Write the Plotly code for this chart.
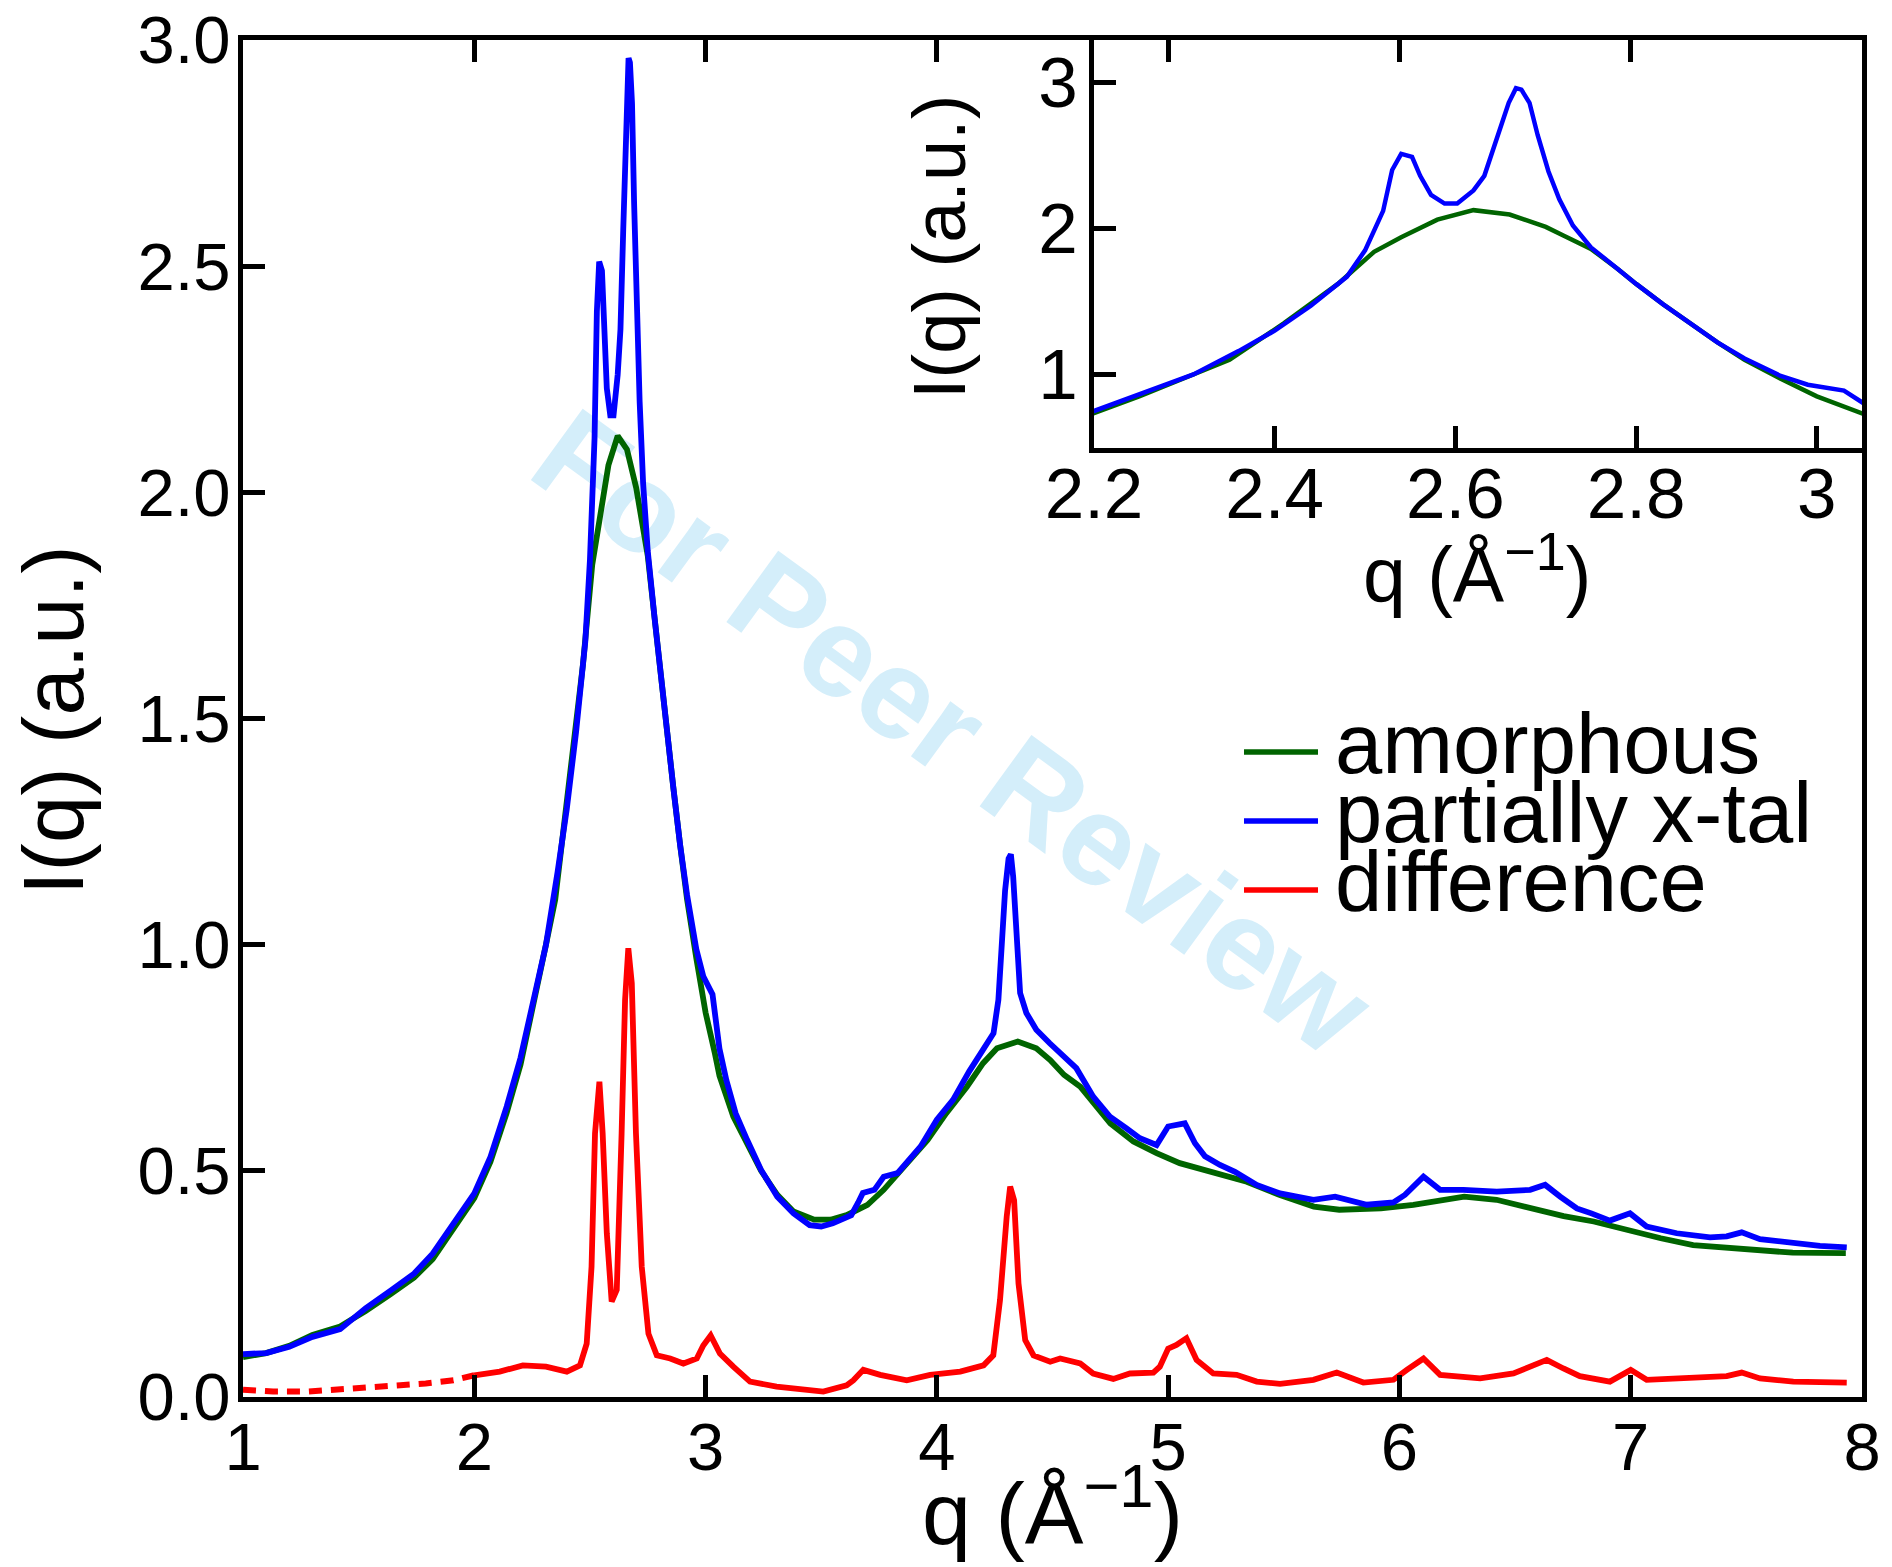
import plotly.graph_objects as go

# ---------------- data ----------------
q_amor = [1.00, 1.10, 1.20, 1.30, 1.42, 1.53, 1.64, 1.74, 1.82, 1.91, 2.00, 2.07, 2.14, 2.20,
          2.25, 2.31, 2.35, 2.41, 2.47, 2.51, 2.54, 2.58, 2.62, 2.66, 2.70, 2.72, 2.75, 2.78,
          2.80, 2.83, 2.86, 2.89, 2.92, 2.96, 3.00, 3.04, 3.06, 3.12, 3.18, 3.24, 3.31, 3.38,
          3.47, 3.54, 3.61, 3.70, 3.77, 3.87, 3.96, 4.04, 4.13, 4.20, 4.26, 4.35, 4.43, 4.49,
          4.55, 4.62, 4.75, 4.85, 4.95, 5.05, 5.20, 5.34, 5.48, 5.63, 5.74, 5.92, 6.06, 6.28,
          6.42, 6.57, 6.71, 6.84, 6.98, 7.13, 7.27, 7.42, 7.56, 7.70, 7.93]
I_amor = [0.088, 0.097, 0.113, 0.137, 0.156, 0.190, 0.228, 0.264, 0.305, 0.374, 0.440, 0.520, 0.628, 0.735,
          0.850, 1.000, 1.100, 1.350, 1.620, 1.840, 1.940, 2.060, 2.125, 2.095, 2.010, 1.950, 1.860, 1.720,
          1.620, 1.480, 1.350, 1.220, 1.100, 0.970, 0.850, 0.760, 0.710, 0.620, 0.560, 0.500, 0.447, 0.410,
          0.392, 0.392, 0.402, 0.425, 0.458, 0.517, 0.568, 0.627, 0.686, 0.738, 0.771, 0.786, 0.771, 0.745,
          0.712, 0.686, 0.605, 0.565, 0.539, 0.517, 0.495, 0.476, 0.447, 0.421, 0.414, 0.417, 0.425, 0.443,
          0.436, 0.417, 0.400, 0.388, 0.369, 0.351, 0.336, 0.329, 0.323, 0.319, 0.318]

q_xtal = [1.00, 1.10, 1.20, 1.30, 1.42, 1.53, 1.64, 1.74, 1.82, 1.91, 2.00, 2.07, 2.14, 2.20,
          2.25, 2.31, 2.36, 2.40, 2.44, 2.48, 2.50, 2.52, 2.53, 2.54, 2.552, 2.561, 2.573, 2.588,
          2.602, 2.62, 2.632, 2.644, 2.659, 2.667, 2.673, 2.682, 2.691, 2.703, 2.715, 2.73, 2.75,
          2.78, 2.80, 2.83, 2.86, 2.89, 2.92, 2.96, 2.99, 3.03, 3.06, 3.09, 3.13, 3.18, 3.24,
          3.31, 3.38, 3.45, 3.50, 3.55, 3.63, 3.66, 3.68, 3.73, 3.77, 3.83, 3.86, 3.93, 4.00,
          4.07, 4.14, 4.20, 4.245, 4.266, 4.281, 4.295, 4.31, 4.32, 4.33, 4.338, 4.35, 4.36,
          4.387, 4.43, 4.488, 4.546, 4.603, 4.676, 4.748, 4.82, 4.878, 4.95, 5.00, 5.072, 5.116,
          5.159, 5.224, 5.289, 5.383, 5.484, 5.628, 5.722, 5.859, 5.974, 6.024, 6.104, 6.176,
          6.277, 6.421, 6.565, 6.63, 6.695, 6.767, 6.83, 6.91, 6.997, 7.069, 7.199, 7.343,
          7.415, 7.48, 7.559, 7.703, 7.818, 7.934]
I_xtal = [0.095, 0.097, 0.111, 0.133, 0.150, 0.196, 0.236, 0.273, 0.317, 0.384, 0.450, 0.531, 0.642, 0.750,
          0.860, 1.000, 1.160, 1.300, 1.470, 1.670, 1.850, 2.120, 2.400, 2.510, 2.490, 2.360, 2.230, 2.170,
          2.170, 2.260, 2.360, 2.580, 2.860, 2.960, 2.950, 2.860, 2.640, 2.390, 2.200, 2.020, 1.870,
          1.720, 1.620, 1.480, 1.350, 1.220, 1.110, 0.990, 0.930, 0.890, 0.770, 0.700, 0.627, 0.568, 0.502,
          0.443, 0.406, 0.380, 0.377, 0.384, 0.402, 0.430, 0.451, 0.458, 0.487, 0.495, 0.513, 0.554, 0.613,
          0.657, 0.720, 0.767, 0.804, 0.878, 1.025, 1.120, 1.190, 1.200, 1.150, 1.080, 0.960, 0.893,
          0.849, 0.812, 0.782, 0.753, 0.727, 0.664, 0.620, 0.594, 0.572, 0.557, 0.598, 0.605, 0.561,
          0.532, 0.513, 0.498, 0.469, 0.450, 0.436, 0.443, 0.425, 0.430, 0.447, 0.487, 0.458,
          0.458, 0.454, 0.458, 0.469, 0.443, 0.417, 0.406, 0.390, 0.406, 0.377, 0.362, 0.353,
          0.355, 0.364, 0.349, 0.340, 0.334, 0.331]

q_diff = [1.00, 1.13, 1.28, 1.42, 1.56, 1.68, 1.79, 1.91, 2.00, 2.11, 2.21, 2.31, 2.40, 2.457,
          2.486, 2.507, 2.522, 2.541, 2.555, 2.573, 2.594, 2.616, 2.637, 2.652, 2.666, 2.681, 2.699,
          2.724, 2.753, 2.789, 2.847, 2.904, 2.962, 2.990, 3.022, 3.062, 3.12, 3.192, 3.307, 3.408,
          3.509, 3.61, 3.639, 3.682, 3.755, 3.87, 3.971, 4.101, 4.202, 4.244, 4.273, 4.302, 4.317,
          4.334, 4.353, 4.382, 4.418, 4.490, 4.533, 4.62, 4.676, 4.763, 4.835, 4.936, 4.964, 5.0,
          5.036, 5.079, 5.123, 5.195, 5.296, 5.383, 5.484, 5.628, 5.729, 5.844, 5.974, 6.032, 6.104,
          6.176, 6.349, 6.493, 6.637, 6.709, 6.78, 6.91, 7.0, 7.069, 7.271, 7.415, 7.48, 7.559,
          7.703, 7.934]
I_diff = [0.016, 0.012, 0.012, 0.016, 0.021, 0.026, 0.030, 0.037, 0.048, 0.056, 0.070, 0.067, 0.056, 0.070,
          0.118, 0.288, 0.583, 0.697, 0.583, 0.362, 0.211, 0.237, 0.583, 0.878, 0.992, 0.915, 0.583,
          0.288, 0.140, 0.092, 0.085, 0.074, 0.085, 0.114, 0.136, 0.096, 0.067, 0.034, 0.023, 0.019,
          0.012, 0.026, 0.037, 0.060, 0.049, 0.037, 0.049, 0.056, 0.070, 0.092, 0.214, 0.399, 0.465,
          0.435, 0.251, 0.126, 0.092, 0.078, 0.085, 0.074, 0.052, 0.040, 0.052, 0.054, 0.067, 0.107,
          0.115, 0.130, 0.082, 0.052, 0.049, 0.034, 0.029, 0.038, 0.054, 0.032, 0.038, 0.060, 0.085,
          0.049, 0.041, 0.052, 0.082, 0.063, 0.046, 0.034, 0.060, 0.038, 0.041, 0.046, 0.054, 0.041,
          0.034, 0.032]

series_names = ["amorphous", "partially x-tal", "difference"]
series_colors = ["#006400", "#0000ff", "#ff0000"]

main_xticks = [1, 2, 3, 4, 5, 6, 7, 8]
main_yticks = [0.0, 0.5, 1.0, 1.5, 2.0, 2.5, 3.0]
main_yticktext = ["0.0", "0.5", "1.0", "1.5", "2.0", "2.5", "3.0"]
inset_xticks = [2.2, 2.4, 2.6, 2.8, 3.0]
inset_xticktext = ["2.2", "2.4", "2.6", "2.8", "3"]
inset_yticks = [1, 2, 3]

# ---------------- layout geometry (pixels) ----------------
W, H = 1892, 1567
L, R, T, B = 243, 1862, 40, 1397


def px(x):
    return (x - L) / (R - L)


def py(y):
    return (B - y) / (B - T)


FONT = "Liberation Sans, Arial, Helvetica, sans-serif"

fig = go.Figure()

# main plot
fig.add_trace(go.Scatter(x=q_amor, y=I_amor, mode="lines", name=series_names[0],
                         line=dict(color=series_colors[0], width=5.8), xaxis="x", yaxis="y"))
fig.add_trace(go.Scatter(x=q_xtal, y=I_xtal, mode="lines", name=series_names[1],
                         line=dict(color=series_colors[1], width=5.8), xaxis="x", yaxis="y"))
q_lo = [q for q in q_diff if q <= 2.0]
I_lo = [v for q, v in zip(q_diff, I_diff) if q <= 2.0]
q_hi = [q for q in q_diff if q >= 2.0]
I_hi = [v for q, v in zip(q_diff, I_diff) if q >= 2.0]
fig.add_trace(go.Scatter(x=q_lo, y=I_lo, mode="lines", name=series_names[2],
                         line=dict(color=series_colors[2], width=6, dash="13px,9px"),
                         xaxis="x", yaxis="y"))
fig.add_trace(go.Scatter(x=q_hi, y=I_hi, mode="lines", name=series_names[2],
                         line=dict(color=series_colors[2], width=5.8), xaxis="x", yaxis="y"))

# inset
fig.add_trace(go.Scatter(x=q_amor, y=I_amor, mode="lines", line=dict(color=series_colors[0], width=4.5),
                         xaxis="x2", yaxis="y2"))
fig.add_trace(go.Scatter(x=q_xtal, y=I_xtal, mode="lines", line=dict(color=series_colors[1], width=4.5),
                         xaxis="x2", yaxis="y2"))

axis_common = dict(showline=True, linewidth=5, linecolor="black", ticks="inside", ticklen=22,
                   tickwidth=4.5, tickcolor="black", showgrid=False, zeroline=False, automargin=False)

fig.update_layout(
    width=W, height=H,
    margin=dict(l=L, r=W - R, t=T, b=H - B, pad=0, autoexpand=False),
    paper_bgcolor="white", plot_bgcolor="rgba(0,0,0,0)",
    showlegend=False,
    font=dict(family=FONT, color="black"),
    xaxis=dict(range=[1, 8], tickvals=main_xticks, ticktext=[str(v) for v in main_xticks],
               mirror="allticks", tickfont=dict(size=67), ticklabelstandoff=-12,
               domain=[0, 1], anchor="y", **axis_common),
    yaxis=dict(range=[0, 3], tickvals=main_yticks, ticktext=main_yticktext, ticklabelstandoff=-6,
               mirror=True, tickfont=dict(size=67), domain=[0, 1], anchor="x", **axis_common),
    xaxis2=dict(range=[2.2, 3.05], tickvals=inset_xticks, ticktext=inset_xticktext, ticklabelstandoff=-20,
                mirror=True, tickfont=dict(size=71), domain=[px(1094), 1], anchor="y2", **axis_common),
    yaxis2=dict(range=[0.5, 3.29], tickvals=inset_yticks, ticktext=[str(v) for v in inset_yticks],
                ticklabelstandoff=-3,
                mirror=True, tickfont=dict(size=71), domain=[py(447.5), 1], anchor="x2", **axis_common),
)

# watermark (below the curves)
cx, cy = 960, 722
fig.add_shape(type="line", xref="paper", yref="paper",
              x0=px(cx - 243), y0=py(cy - 176), x1=px(cx + 243), y1=py(cy + 176),
              line=dict(color="rgba(0,0,0,0)", width=1), layer="below",
              label=dict(text="For Peer Review", textposition="middle", yanchor="middle", textangle=36,
                         font=dict(family=FONT, size=128, color="#d4eefa", weight="bold")))

# legend drawn by hand (tight spacing as in the reference)
leg_y = [752, 821, 890]
for name, col, yy in zip(series_names, series_colors, leg_y):
    fig.add_shape(type="line", xref="paper", yref="paper", x0=px(1244), x1=px(1318),
                  y0=py(yy), y1=py(yy), line=dict(color=col, width=5.5))
    fig.add_annotation(xref="paper", yref="paper", x=px(1333), y=py(yy - 9), text=name,
                       showarrow=False, xanchor="left", yanchor="middle",
                       font=dict(family=FONT, size=85, color="black"))

# axis titles
fig.add_annotation(xref="paper", yref="paper", x=0.5, y=py(1565), text="q (Å<sup>−1</sup>)",
                   showarrow=False, xanchor="center", yanchor="bottom",
                   font=dict(family=FONT, size=88))
fig.add_annotation(xref="paper", yref="paper", x=px(53), y=py(720), text="I(q) (a.u.)",
                   showarrow=False, xanchor="center", yanchor="middle", textangle=-90,
                   font=dict(family=FONT, size=85))
fig.add_annotation(xref="paper", yref="paper", x=px(1477), y=py(620), text="q (Å<sup>−1</sup>)",
                   showarrow=False, xanchor="center", yanchor="bottom",
                   font=dict(family=FONT, size=77))
fig.add_annotation(xref="paper", yref="paper", x=px(939), y=py(247), text="I(q) (a.u.)",
                   showarrow=False, xanchor="center", yanchor="middle", textangle=-90,
                   font=dict(family=FONT, size=74))

fig.write_html("out.html")
